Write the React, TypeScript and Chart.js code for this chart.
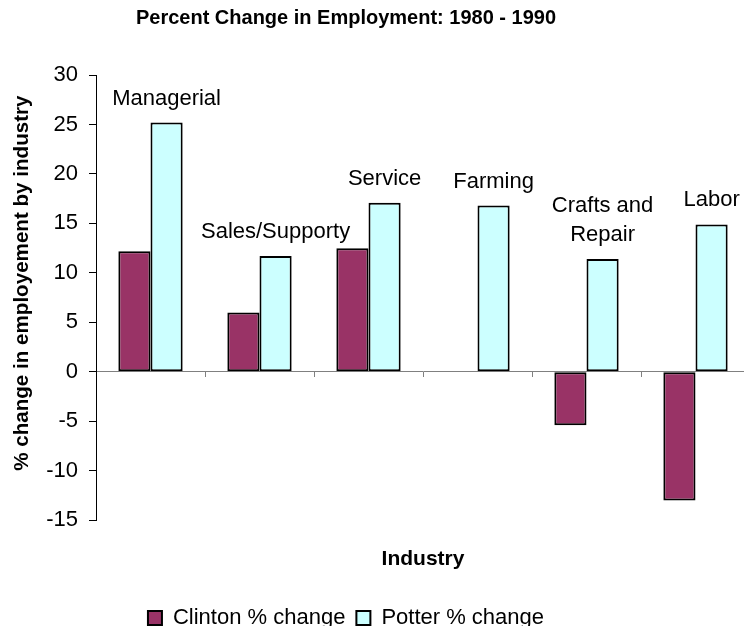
import React, { useEffect, useRef } from 'react';
import { Chart, registerables } from 'chart.js';

Chart.register(...registerables);

const categories: (string | string[])[] = [
  'Managerial',
  'Sales/Supporty',
  'Service',
  'Farming',
  ['Crafts and', 'Repair'],
  'Labor',
];
const clintonChange: (number | null)[] = [12.2, 6.0, 12.5, null, -5.4, -13.0];
const potterChange: number[] = [25.2, 11.7, 17.1, 16.8, 11.4, 14.9];
const seriesNames: string[] = ['Clinton % change', 'Potter % change'];
const seriesColors: string[] = ['#993366', '#CCFFFF'];
const yMin = -15;
const yMax = 30;
const yStep = 5;
const chartTitle = 'Percent Change in Employment: 1980 - 1990';
const yAxisTitle = '% change in employement by industry';
const xAxisTitle = 'Industry';

const FONT = "'Liberation Sans', Arial, Helvetica, sans-serif";

const categoryLabelPlugin = {
  id: 'categoryLabels',
  afterDatasetsDraw(chart: any) {
    const meta = chart.getDatasetMeta(1);
    const ctx = chart.ctx as CanvasRenderingContext2D;
    ctx.save();
    ctx.font = `22px ${FONT}`;
    ctx.fillStyle = '#000';
    ctx.textAlign = 'center';
    ctx.textBaseline = 'middle';
    meta.data.forEach((bar: any, i: number) => {
      const label = categories[i];
      const lines = Array.isArray(label) ? label : [label];
      const { x, y } = bar.getProps(['x', 'y'], true);
      lines.forEach((line, j) => {
        ctx.fillText(line, x, y - 24 - (lines.length - 1 - j) * 29);
      });
    });
    ctx.restore();
  },
};

const yTitlePlugin = {
  id: 'yTitle',
  afterDraw(chart: any) {
    const ctx = chart.ctx as CanvasRenderingContext2D;
    const area = chart.chartArea;
    const yScale = chart.scales.y;
    ctx.save();
    ctx.font = `bold 20.6px ${FONT}`;
    ctx.fillStyle = '#000';
    ctx.textAlign = 'center';
    ctx.textBaseline = 'middle';
    ctx.translate(yScale.left + 80.5, (area.top + area.bottom) / 2 - 14.5);
    ctx.rotate(-Math.PI / 2);
    ctx.fillText(yAxisTitle, 0, 0);
    ctx.restore();
  },
};

export default function App() {
  const ref = useRef<HTMLCanvasElement | null>(null);

  useEffect(() => {
    if (!ref.current) return;
    Chart.defaults.font.family = FONT;
    Chart.defaults.color = '#000';
    const chart = new Chart(ref.current, {
      type: 'bar',
      data: {
        labels: categories,
        datasets: [
          {
            label: seriesNames[0],
            data: clintonChange,
            backgroundColor: seriesColors[0],
            borderColor: '#000',
            borderWidth: 2,
            borderSkipped: false,
            xAxisID: 'x',
            yAxisID: 'y',
          },
          {
            label: seriesNames[1],
            data: potterChange,
            backgroundColor: seriesColors[1],
            borderColor: '#000',
            borderWidth: 2,
            borderSkipped: false,
            xAxisID: 'x',
            yAxisID: 'y',
          },
        ],
      },
      options: {
        animation: false,
        responsive: true,
        maintainAspectRatio: false,
        layout: { padding: 0 },
        datasets: {
          bar: { categoryPercentage: 0.59, barPercentage: 1.0 },
        },
        scales: {
          x: {
            type: 'category',
            axis: 'x',
            position: { y: 0 },
            offset: true,
            ticks: { display: false },
            grid: {
              display: true,
              drawOnChartArea: false,
              drawTicks: true,
              tickLength: 5,
              color: '#808080',
              offset: true,
            },
            border: { display: true, color: '#808080', width: 1 },
          },
          x2: {
            type: 'category',
            axis: 'x',
            position: 'bottom',
            ticks: { display: false },
            grid: { display: false, drawTicks: false, drawOnChartArea: false },
            border: { display: false },
            title: {
              display: true,
              text: xAxisTitle,
              color: '#000',
              font: { size: 21, weight: 'bold' },
              padding: { top: 26.4, bottom: 24.1 },
            },
          },
          y: {
            type: 'linear',
            position: 'left',
            min: yMin,
            max: yMax,
            ticks: {
              stepSize: yStep,
              padding: 11,
              color: '#000',
              font: { size: 22 },
            },
            grid: {
              drawOnChartArea: false,
              drawTicks: true,
              tickLength: 7,
              color: '#000',
            },
            border: { display: true, color: '#000', width: 1 },
            title: { display: false },
            afterFit(scale: any) {
              scale.width = 154;
            },
          },
        },
        plugins: {
          title: {
            display: true,
            text: chartTitle,
            color: '#000',
            font: { size: 20, weight: 'bold' },
            padding: { top: 6.5, bottom: 44.5 },
          },
          legend: {
            display: true,
            position: 'bottom',
            labels: {
              boxWidth: 14,
              boxHeight: 14,
              padding: 11,
              color: '#000',
              font: { size: 22 },
            },
          },
          tooltip: { enabled: false },
        },
      } as any,
      plugins: [categoryLabelPlugin, yTitlePlugin],
    });
    return () => chart.destroy();
  }, []);

  return (
    <div
      style={{
        position: 'fixed',
        left: 0,
        top: 0,
        width: 744,
        height: 626,
        overflow: 'hidden',
        background: '#fff',
      }}
    >
      <div style={{ position: 'absolute', left: -58, top: 0, width: 808, height: 639 }}>
        <canvas ref={ref} />
      </div>
    </div>
  );
}
